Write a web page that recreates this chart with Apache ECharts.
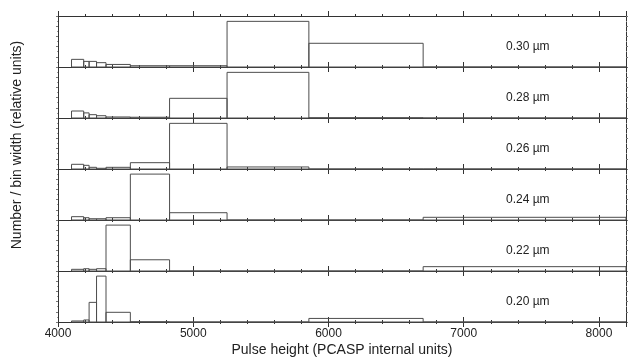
<!DOCTYPE html>
<html>
<head>
<meta charset="utf-8">
<script src="https://cdn.jsdelivr.net/npm/echarts@6/dist/echarts.min.js"></script>
<style>
  html, body { margin: 0; padding: 0; background: #fff; }
  #chart { width: 629px; height: 359px; }
</style>
</head>
<body>
<div id="chart"></div>
<script>
// bin edges (PCASP pulse height)
const edges = [4100, 4190, 4230, 4285, 4355, 4535, 4825, 5250, 5855, 6700, 8200]
// panel labels, top to bottom
const sizes = ['0.30 µm', '0.28 µm', '0.26 µm', '0.24 µm', '0.22 µm', '0.20 µm']
// number / bin width, relative (one array per panel)
const p030 = [0.15, 0.11, 0.11, 0.085, 0.05, 0.025, 0.025, 0.895, 0.465, 0]
const p028 = [0.137, 0.10, 0.065, 0.045, 0.02, 0.015, 0.386, 0.895, 0.005, 0]
const p026 = [0.092, 0.072, 0.033, 0.014, 0.033, 0.124, 0.895, 0.04, 0, 0]
const p024 = [0.065, 0.045, 0.025, 0.025, 0.045, 0.9, 0.143, 0, 0, 0.053]
const p022 = [0.033, 0.045, 0.033, 0.045, 0.9, 0.22, 0, 0, 0, 0.085]
const p020 = [0.02, 0.04, 0.385, 0.9, 0.19, 0.005, 0, 0, 0.07, 0]
const panels = [p030, p028, p026, p024, p022, p020]
const xTicks = [4000, 5000, 6000, 7000, 8000]

const myChart = echarts.init(document.getElementById('chart'))

const top0 = 16
const panelH = 51
const axisColor = '#333'
const lineColor = '#4d4d4d'

const grid = []
const xAxis = []
const yAxis = []
const series = []
const graphic = []

panels.forEach((vals, i) => {
  grid.push({ left: 58, right: 3, top: top0 + i * panelH, height: panelH })
  const last = i === panels.length - 1
  const xBase = {
    gridIndex: i,
    type: 'value',
    min: 4000,
    max: 8200,
    interval: 1000,
    splitLine: { show: false },
    axisLine: { show: true, lineStyle: { color: axisColor, width: 1 } },
    minorSplitLine: { show: false }
  }
  // ticks below the line
  xAxis.push(Object.assign({}, xBase, {
    position: 'bottom',
    axisTick: { show: true, inside: false, length: 5, lineStyle: { color: axisColor } },
    minorTick: { show: true, splitNumber: 5, length: 2, lineStyle: { color: axisColor } },
    axisLabel: {
      show: last,
      color: '#222',
      fontSize: 12,
      fontFamily: 'Liberation Sans',
      margin: 6,
      formatter: v => (xTicks.includes(v) ? String(v) : '')
    },
    name: last ? 'Pulse height (PCASP internal units)' : '',
    nameLocation: 'middle',
    nameGap: 21,
    nameTextStyle: { color: '#222', fontSize: 14, fontFamily: 'Liberation Sans' }
  }))
  // ticks above the line
  xAxis.push(Object.assign({}, xBase, {
    position: 'bottom',
    axisTick: { show: true, inside: true, length: 5, lineStyle: { color: axisColor } },
    minorTick: { show: true, splitNumber: 5, length: 2, lineStyle: { color: axisColor } },
    axisLabel: { show: false }
  }))
  if (i === 0) {
    xAxis.push(Object.assign({}, xBase, {
      position: 'top',
      axisTick: { show: true, inside: false, length: 5, lineStyle: { color: axisColor } },
      minorTick: { show: true, splitNumber: 5, length: 2, lineStyle: { color: axisColor } },
      axisLabel: { show: false }
    }))
  }
  const yBase = {
    gridIndex: i,
    type: 'value',
    min: 0,
    max: 1,
    interval: 0.2,
    splitLine: { show: false },
    axisLabel: { show: false },
    axisLine: { show: true, lineStyle: { color: axisColor, width: 1 } },
    axisTick: { show: true, length: 2, lineStyle: { color: '#777' } },
    minorTick: { show: true, splitNumber: 2, length: 1, lineStyle: { color: '#999' } }
  }
  yAxis.push(Object.assign({}, yBase, { position: 'left' }))
  yAxis.push(Object.assign({}, yBase, { position: 'right' }))

  const data = vals.map((v, k) => [edges[k], edges[k + 1], v])
  series.push({
    type: 'custom',
    xAxisIndex: xAxis.length - (i === 0 ? 3 : 2),
    yAxisIndex: yAxis.length - 2,
    data: data,
    encode: { x: [0, 1], y: 2 },
    renderItem: function (params, api) {
      const p0 = api.coord([api.value(0), 0])
      const p1 = api.coord([api.value(1), api.value(2)])
      return {
        type: 'rect',
        shape: { x: p0[0], y: p1[1], width: p1[0] - p0[0], height: p0[1] - p1[1] },
        style: { fill: 'none', stroke: lineColor, lineWidth: 1 }
      }
    },
    silent: true
  })

  graphic.push({
    type: 'text',
    left: 506,
    top: top0 + i * panelH + 25,
    style: { text: sizes[i], fill: '#222', fontSize: 12, fontFamily: 'Liberation Sans' }
  })
})

graphic.push({
  type: 'text',
  x: 17,
  y: 145,
  rotation: Math.PI / 2,
  style: {
    text: 'Number / bin width (relative units)',
    fill: '#222',
    fontSize: 14,
    fontFamily: 'Liberation Sans',
    align: 'center',
    verticalAlign: 'middle'
  }
})

const option = {
  backgroundColor: '#fff',
  animation: false,
  grid,
  xAxis,
  yAxis,
  series,
  graphic
}
myChart.setOption(option)
</script>
</body>
</html>
